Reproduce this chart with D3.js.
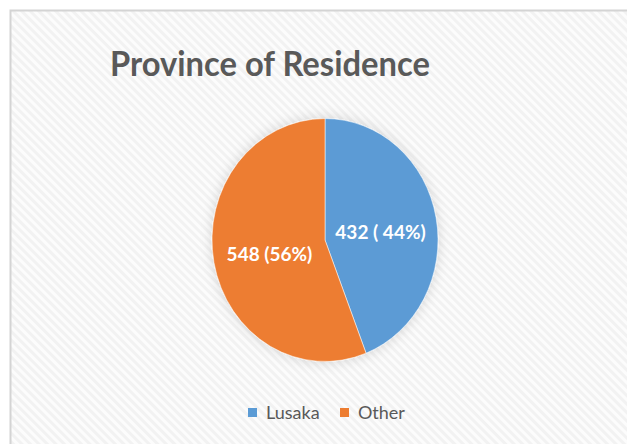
<!DOCTYPE html>
<html lang="en">
<head>
<meta charset="utf-8">
<title>Province of Residence</title>
<script src="https://d3js.org/d3.v7.min.js"></script>
<style>
    body { margin: 0; padding: 0; background: #fff; }
    text { font-family: Lato, "Open Sans", sans-serif; }
</style>
</head>
<body>
<svg id="chart"></svg>
<script>
    const categories = ["Lusaka", "Other"];
    const counts = [432, 548];
    const labels = ["432 ( 44%)", "548 (56%)"];
    const colors = ["#5B9BD5", "#ED7D31"];

    const width = 627, height = 444;
    const svg = d3.select("#chart").attr("width", width).attr("height", height);
    const defs = svg.append("defs");

    // faint diagonal hatch background
    const pat = defs.append("pattern")
        .attr("id", "hatch")
        .attr("patternUnits", "userSpaceOnUse")
        .attr("width", 6).attr("height", 6)
        .attr("patternTransform", "rotate(-45)");
    pat.append("rect").attr("width", 6).attr("height", 6).attr("fill", "#fcfcfc");
    pat.append("rect").attr("width", 3).attr("height", 6).attr("fill", "#f2f2f2");

    const shadow = defs.append("filter").attr("id", "shadow")
        .attr("x", "-20%").attr("y", "-20%").attr("width", "140%").attr("height", "140%");
    shadow.append("feDropShadow")
        .attr("dx", 0).attr("dy", 0).attr("stdDeviation", 6)
        .attr("flood-color", "#000").attr("flood-opacity", 0.15);

    svg.append("rect")
        .attr("x", 10.5).attr("y", 10.5)
        .attr("width", width).attr("height", height)
        .attr("fill", "url(#hatch)")
        .attr("stroke", "#d4d4d4").attr("stroke-width", 2);

    svg.append("text")
        .attr("x", 270).attr("y", 76)
        .attr("text-anchor", "middle")
        .attr("font-size", 35).attr("font-weight", "bold")
        .attr("textLength", 320).attr("lengthAdjust", "spacingAndGlyphs")
        .attr("fill", "#595959")
        .text("Province of Residence");

    const cx = 325, cy = 240, r = 113;
    const pie = d3.pie().sort(null).value(d => d);
    const arcs = pie(counts);
    const arc = d3.arc().innerRadius(0).outerRadius(r);
    const labelArc = d3.arc().innerRadius(r * 0.5).outerRadius(r * 0.5);

    const g = svg.append("g")
        .attr("transform", `translate(${cx},${cy}) scale(1,1.075)`);

    g.append("g").attr("filter", "url(#shadow)")
        .selectAll("path")
        .data(arcs)
        .join("path")
        .attr("d", arc)
        .attr("fill", (d, i) => colors[i])
        .attr("stroke", "#fff").attr("stroke-width", 0.5);

    g.selectAll("text.lbl")
        .data(arcs)
        .join("text")
        .attr("class", "lbl")
        .attr("transform", d => {
            const [x, y] = labelArc.centroid(d);
            return `translate(${x},${y + 3}) scale(1,${1 / 1.075})`;
        })
        .attr("text-anchor", "middle")
        .attr("dy", "0.35em")
        .attr("font-size", 19).attr("font-weight", "bold")
        .attr("fill", "#fff")
        .text((d, i) => labels[i]);

    // legend
    const legendX = [248, 340];
    const lg = svg.append("g").selectAll("g")
        .data(categories)
        .join("g")
        .attr("transform", (d, i) => `translate(${legendX[i]},413)`);
    lg.append("rect")
        .attr("x", 0).attr("y", -5)
        .attr("width", 9).attr("height", 9)
        .attr("fill", (d, i) => colors[i]);
    lg.append("text")
        .attr("x", 18).attr("dy", "0.35em")
        .attr("font-size", 18)
        .attr("fill", "#595959")
        .text(d => d);
</script>
</body>
</html>
